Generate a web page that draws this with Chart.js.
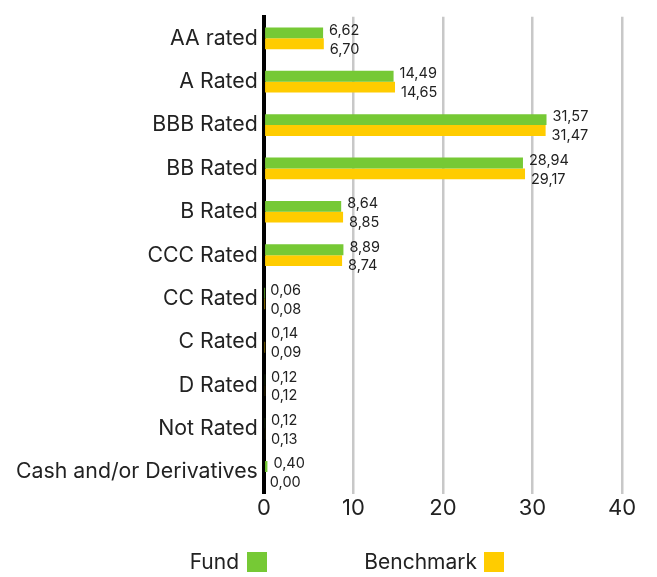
<!DOCTYPE html>
<html>
<head>
<meta charset="utf-8">
<script src="https://cdn.jsdelivr.net/npm/chart.js@4/dist/chart.umd.min.js"></script>
<style>
  html, body { margin: 0; padding: 0; background: #fff; }
</style>
</head>
<body>
<canvas id="chart" width="657" height="577"></canvas>
<script>
const categories = ["AA rated", "A Rated", "BBB Rated", "BB Rated", "B Rated", "CCC Rated",
    "CC Rated", "C Rated", "D Rated", "Not Rated", "Cash and/or Derivatives"];
const fundValues = [6.62, 14.49, 31.57, 28.94, 8.64, 8.89, 0.06, 0.14, 0.12, 0.12, 0.40];
const benchmarkValues = [6.70, 14.65, 31.47, 29.17, 8.85, 8.74, 0.08, 0.09, 0.12, 0.13, 0.00];
const xTicks = [0, 10, 20, 30, 40];

const fundColor = '#76c935';
const benchColor = '#ffcc00';
const fontName = 'Inter, "Noto Sans", sans-serif';

// value labels right of each bar, comma decimals
const valueLabels = {
    id: 'valueLabels',
    afterDatasetsDraw(chart) {
        const ctx = chart.ctx;
        ctx.save();
        ctx.font = '14.5px ' + fontName;
        ctx.fillStyle = '#222';
        ctx.textBaseline = 'middle';
        ctx.textAlign = 'left';
        chart.data.datasets.forEach((ds, di) => {
            const meta = chart.getDatasetMeta(di);
            meta.data.forEach((bar, i) => {
                const txt = ds.data[i].toFixed(2).replace('.', ',');
                const dy = di === 0 ? -2.5 : 5.5;
                ctx.fillText(txt, bar.x + 6, bar.y + dy);
            });
        });
        ctx.restore();
    }
};

// legend at the bottom: text then swatch
const bottomLegend = {
    id: 'bottomLegend',
    afterDraw(chart) {
        const ctx = chart.ctx;
        ctx.save();
        ctx.font = '21px ' + fontName;
        ctx.fillStyle = '#222';
        ctx.textBaseline = 'middle';
        ctx.textAlign = 'right';
        ctx.fillText('Fund', 239, 563);
        ctx.fillStyle = fundColor;
        ctx.fillRect(247, 552, 20, 20);
        ctx.fillStyle = '#222';
        ctx.fillText('Benchmark', 477, 563);
        ctx.fillStyle = benchColor;
        ctx.fillRect(484, 552, 20, 20);
        ctx.restore();
    }
};

new Chart(document.getElementById('chart'), {
    type: 'bar',
    data: {
        labels: categories,
        datasets: [{
            label: 'Fund',
            data: fundValues,
            backgroundColor: fundColor,
            borderWidth: 0,
            categoryPercentage: 0.5,
            barPercentage: 1.0
        }, {
            label: 'Benchmark',
            data: benchmarkValues,
            backgroundColor: benchColor,
            borderWidth: 0,
            categoryPercentage: 0.5,
            barPercentage: 1.0
        }]
    },
    options: {
        indexAxis: 'y',
        responsive: false,
        animation: false,
        devicePixelRatio: 1,
        layout: { padding: { top: 2, right: 35, bottom: 53, left: 10 } },
        plugins: {
            legend: { display: false },
            tooltip: { enabled: false }
        },
        scales: {
            x: {
                min: 0,
                max: 40,
                afterBuildTicks: (axis) => { axis.ticks = xTicks.map(v => ({ value: v })); },
                grid: {
                    color: (c) => c.tick && c.tick.value === 0 ? 'rgba(0,0,0,0)' : '#c8c8c8',
                    lineWidth: 2.5,
                    drawTicks: false
                },
                border: { display: false },
                ticks: {
                    color: '#222',
                    font: { size: 22, family: fontName },
                    padding: 2
                }
            },
            y: {
                grid: { display: false, drawTicks: false },
                border: { display: true, color: '#000', width: 4 },
                ticks: {
                    color: '#222',
                    font: { size: 21.3, family: fontName, lineHeight: 1.0 },
                    padding: 6
                }
            }
        }
    },
    plugins: [valueLabels, bottomLegend]
});
</script>
</body>
</html>
